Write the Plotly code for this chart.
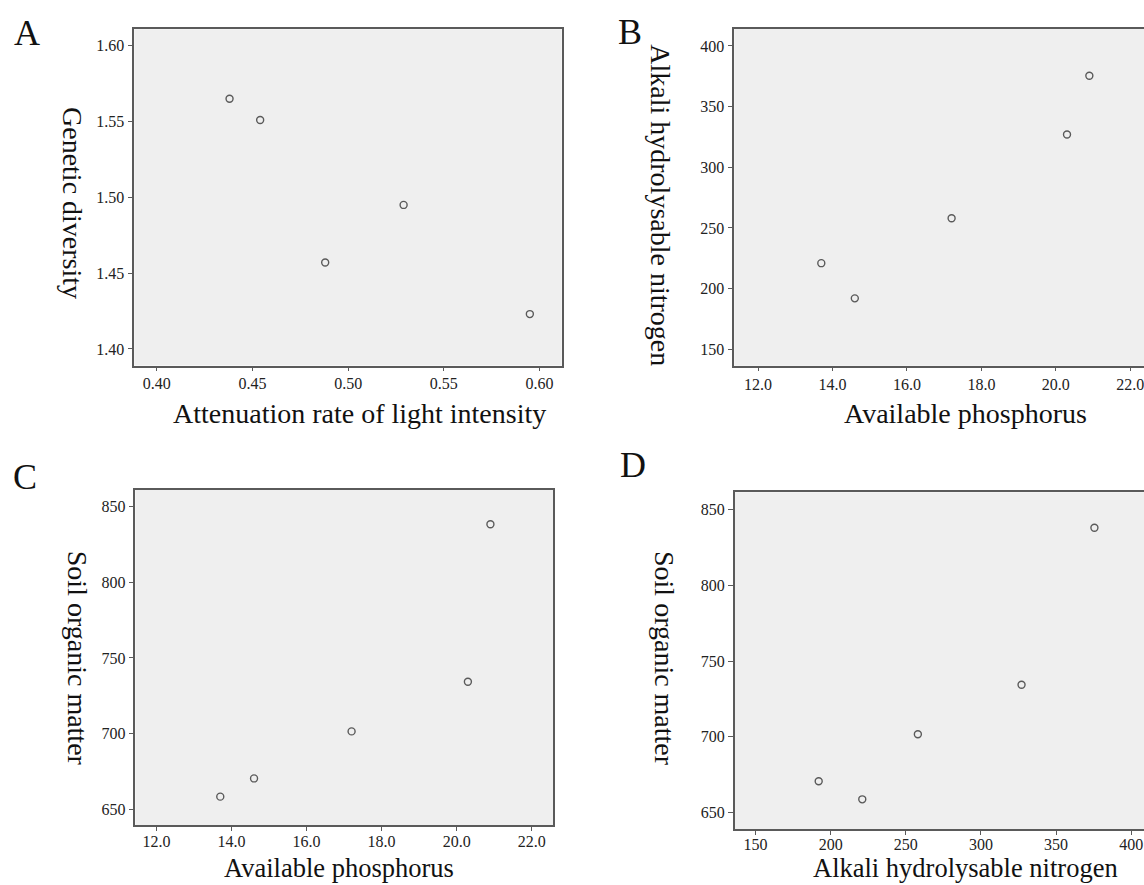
import plotly.graph_objects as go

# ---- data ----
light_attenuation = [0.438, 0.454, 0.488, 0.529, 0.595]
genetic_diversity = [1.565, 1.551, 1.457, 1.495, 1.423]

available_phosphorus = [13.7, 14.6, 17.2, 20.3, 20.9]
alkali_nitrogen = [221, 192, 258, 327, 375.5]
soil_organic_matter = [658.6, 670.6, 701.6, 734.3, 838.1]

ticks_A_x = [0.40, 0.45, 0.50, 0.55, 0.60]
ticks_A_y = [1.40, 1.45, 1.50, 1.55, 1.60]
ticks_P = [12.0, 14.0, 16.0, 18.0, 20.0, 22.0]
ticks_N = [150, 200, 250, 300, 350, 400]
ticks_N_y = [150, 200, 250, 300, 350, 400]
ticks_SOM = [650, 700, 750, 800, 850]

W, H = 1144, 885
FONT = "Liberation Serif, Times New Roman, serif"
LINE = "#5a5a5a"


def px(x):
    return x / W


def py(y):
    return 1 - y / H


panels = [
    (light_attenuation, genetic_diversity, (134.3, 561.6), (29.3, 365.5),
     [0.3882, 0.6116], [1.3891, 1.6108], ticks_A_x, ticks_A_y, ".2f", ".2f", True, -1),
    (available_phosphorus, alkali_nitrogen, (734.3, 1144), (29.0, 365.7),
     [11.363, 22.368], [136.5, 414.0], ticks_P, ticks_N_y, ".1f", "d", False, -1),
    (available_phosphorus, soil_organic_matter, (135.4, 553.0), (490.0, 825.0),
     [11.438, 22.568], [639.9, 860.7], ticks_P, ticks_SOM, ".1f", "d", True, -3),
    (alkali_nitrogen, soil_organic_matter, (734.7, 1144), (492.3, 829.3),
     [136.1, 408.5], [638.8, 861.5], ticks_N, ticks_SOM, "d", "d", False, -4),
]

fig = go.Figure()
layout = {}
for i, (xd, yd, xdom, ydom, xr, yr, xt, yt, xf, yf, closed, standoff) in enumerate(panels):
    n = "" if i == 0 else str(i + 1)
    fig.add_trace(go.Scatter(
        x=xd, y=yd, mode="markers", xaxis="x" + n, yaxis="y" + n,
        marker=dict(symbol="circle-open", size=7, color=LINE, line=dict(width=1.4, color=LINE)),
        showlegend=False, hoverinfo="skip"))
    layout["xaxis" + n] = dict(
        domain=[px(xdom[0]), px(xdom[1])], range=xr, anchor="y" + n,
        tickvals=xt, tickformat=xf, ticks="outside", ticklen=4, tickwidth=1, tickcolor=LINE,
        showline=True, linecolor=LINE, linewidth=1.5, mirror=True,
        showgrid=False, zeroline=False, ticklabeloverflow="allow",
        ticklabelstandoff=standoff,
        tickfont=dict(family=FONT, size=16, color="#222"))
    layout["yaxis" + n] = dict(
        domain=[py(ydom[1]), py(ydom[0])], range=yr, anchor="x" + n,
        tickvals=yt, tickformat=yf, ticks="outside", ticklen=5, tickwidth=1, tickcolor=LINE,
        showline=True, linecolor=LINE, linewidth=1.5, mirror=closed,
        showgrid=False, zeroline=False, ticklabeloverflow="allow",
        tickfont=dict(family=FONT, size=16, color="#222"))

fig.update_layout(**layout)

for i, (xd, yd, xdom, ydom, *_rest) in enumerate(panels):
    fig.add_shape(type="rect", xref="paper", yref="paper",
                  x0=px(xdom[0]), x1=px(xdom[1]), y0=py(ydom[1]), y1=py(ydom[0]),
                  fillcolor="#efefef", line=dict(width=0), layer="below")

annotations = [
    dict(text="A", x=27, y=32.5, size=36, angle=0),
    dict(text="B", x=630, y=31.7, size=36, angle=0),
    dict(text="C", x=25, y=477, size=36, angle=0),
    dict(text="D", x=632.6, y=465, size=36, angle=0),
    dict(text="Attenuation rate of light intensity", x=359.4, y=414, size=28, angle=0),
    dict(text="Available phosphorus", x=965, y=413, size=28, angle=0),
    dict(text="Available phosphorus", x=339.4, y=867.5, size=26.5, angle=0),
    dict(text="Alkali hydrolysable nitrogen", x=965, y=867.5, size=26.5, angle=0),
    dict(text="Genetic diversity", x=72, y=203, size=28, angle=90),
    dict(text="Alkali hydrolysable nitrogen", x=659.7, y=205, size=28, angle=90),
    dict(text="Soil organic matter", x=77.7, y=658.5, size=28, angle=90),
    dict(text="Soil organic matter", x=664.5, y=658.5, size=28, angle=90),
]
for a in annotations:
    fig.add_annotation(text=a["text"], x=px(a["x"]), y=py(a["y"]), xref="paper", yref="paper",
                       xanchor="center", yanchor="middle", showarrow=False, textangle=a["angle"],
                       borderpad=0,
                       font=dict(family=FONT, size=a["size"], color="#111"))

fig.update_layout(width=W, height=H, margin=dict(l=0, r=0, t=0, b=0),
                  paper_bgcolor="white", plot_bgcolor="rgba(0,0,0,0)")

fig.write_html("out.html", config={"displayModeBar": False},
               post_script="document.body.style.margin='0';document.body.style.overflow='hidden';")
